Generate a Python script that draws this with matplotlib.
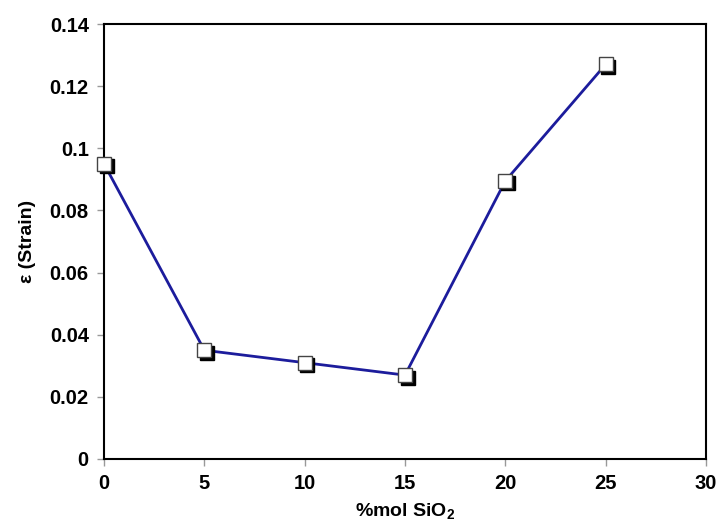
import matplotlib
matplotlib.use('Agg')
import matplotlib.pyplot as plt
import matplotlib.transforms as mtransforms

# %mol SiO2 vs strain
sio2 = [0, 5, 10, 15, 20, 25]
strain = [0.095, 0.035, 0.031, 0.027, 0.0895, 0.127]

plt.rcParams['font.family'] = ['Liberation Sans', 'DejaVu Sans']
plt.rcParams['font.weight'] = 'bold'
plt.rcParams['mathtext.fontset'] = 'custom'
plt.rcParams['mathtext.rm'] = 'Liberation Sans:bold'
plt.rcParams['mathtext.bf'] = 'Liberation Sans:bold'

fig = plt.figure(figsize=(7.16, 5.22), dpi=100)
ax = fig.add_axes([0.1453, 0.1207, 0.8407, 0.8333])

ax.plot(sio2, strain, color='#1c1c9c', linewidth=2, zorder=2)

# shadow under each marker, shifted down-right
shadow = mtransforms.offset_copy(ax.transData, fig=fig, x=2.5, y=-2.5, units='dots')
ax.plot(sio2, strain, linestyle='none', marker='s', markersize=9.5,
        markerfacecolor='black', markeredgecolor='black', transform=shadow,
        zorder=3, clip_on=False)
ax.plot(sio2, strain, linestyle='none', marker='s', markersize=9.5,
        markerfacecolor='white', markeredgecolor='#444444', markeredgewidth=1,
        zorder=4, clip_on=False)

ax.set_xlim(0, 30)
ax.set_ylim(0, 0.14)
ax.set_xticks(range(0, 31, 5))
ax.set_yticks([0, 0.02, 0.04, 0.06, 0.08, 0.1, 0.12, 0.14])
ax.set_yticklabels(['0', '0.02', '0.04', '0.06', '0.08', '0.1', '0.12', '0.14'])
ax.tick_params(direction='out', length=5, width=1, color='#999999', labelsize=14.5, pad=6)
for s in ax.spines.values():
    s.set_linewidth(1.5)
    s.set_color('black')

ax.set_xlabel('%mol SiO$_\\mathrm{2}$', fontsize=14, fontweight='bold', labelpad=6)
ax.set_ylabel('ε (Strain)', fontsize=14, fontweight='bold', labelpad=10)

fig.savefig('out.png', dpi=100)
